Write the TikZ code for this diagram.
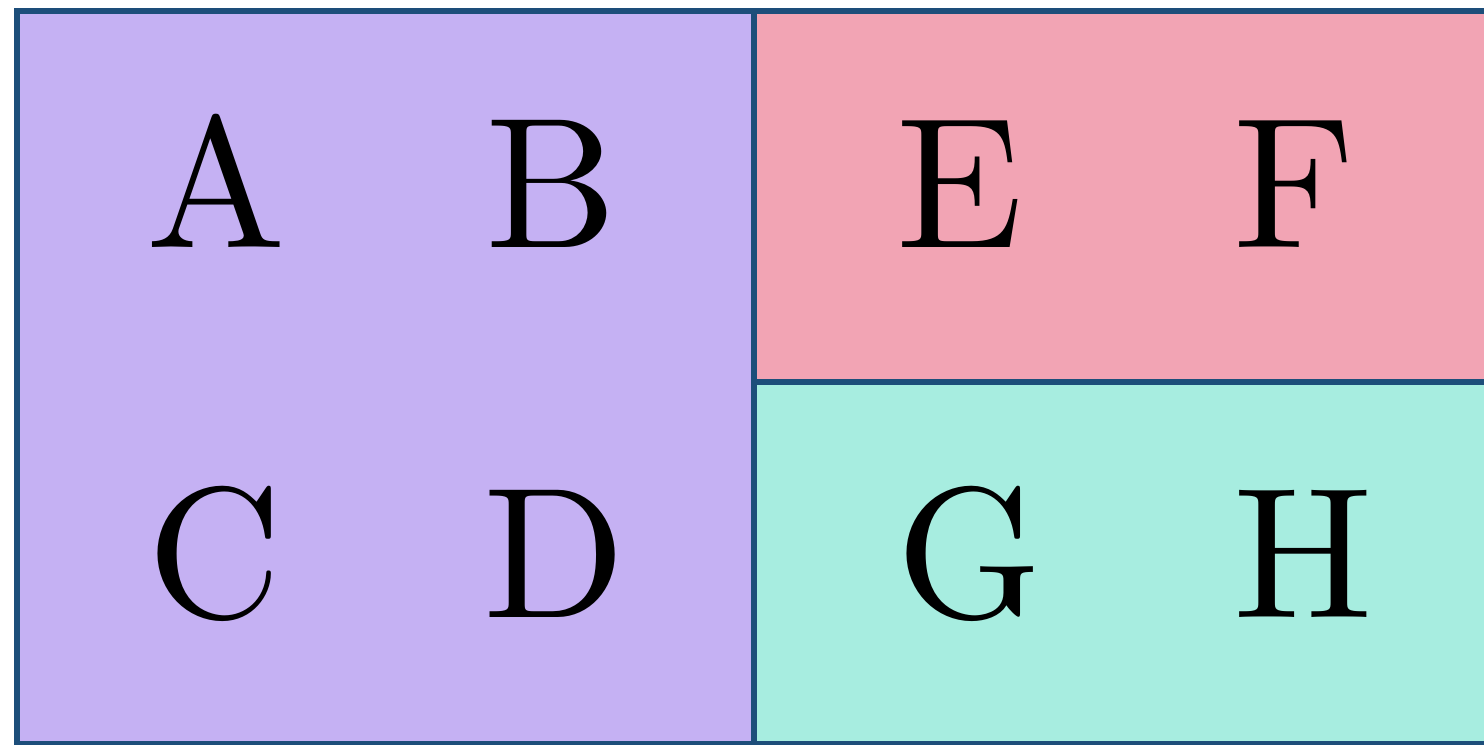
\documentclass[tikz,border=0pt]{standalone}
\usepackage{fontspec}
\newfontfamily\labfont{lmroman10-regular.otf}
\definecolor{purp}{HTML}{C5B1F3}
\definecolor{pinkc}{HTML}{F2A4B4}
\definecolor{tealc}{HTML}{A7EDE0}
\definecolor{bord}{HTML}{1D4E7A}
\tikzset{
  cell/.style={draw=bord, line width=3.7pt},
  lab/.style={anchor=base, inner sep=0pt, font=\labfont\fontsize{106}{120}\selectfont}
}
\begin{document}
\begin{tikzpicture}[x=0.02cm,y=-0.02cm]
\useasboundingbox (0,0) rectangle (1484,744);
\clip (0,0) rectangle (1484,744);
\fill[white] (0,0) rectangle (1484,744);
\draw[cell, fill=purp] (17,11) rectangle (754,744);
\draw[cell, fill=pinkc] (754,11) rectangle (1500,382);
\draw[cell, fill=tealc] (754,382) rectangle (1500,744);
\node[lab] (A) at (216,247) {A};
\node[lab] (B) at (551,247) {B};
\node[lab] (E) at (960,247) {E};
\node[lab] (F) at (1294,247) {F};
\node[lab] (C) at (215,617) {C};
\node[lab] (D) at (555,617) {D};
\node[lab] (G) at (970,617) {G};
\node[lab] (H) at (1303,617) {H};
\end{tikzpicture}
\end{document}
